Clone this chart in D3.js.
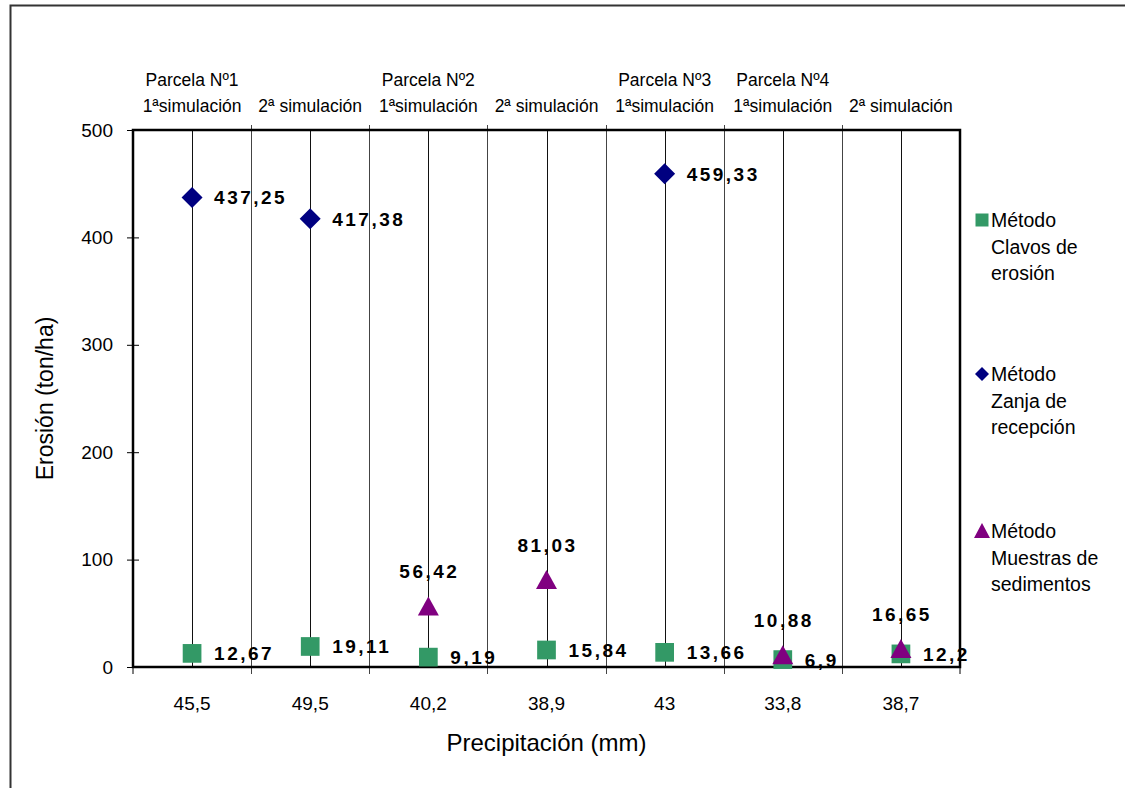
<!DOCTYPE html>
<html>
<head>
<meta charset="utf-8">
<script src="https://cdn.jsdelivr.net/npm/d3@7"></script>
<style>
body{margin:0;background:#fff;}
svg text{font-family:"Liberation Sans",Arial,sans-serif;fill:#000;}
.val{font-weight:bold;font-size:19px;letter-spacing:2.5px;}
</style>
</head>
<body>
<svg id="chart"></svg>
<script>
// categories (precipitation) and top labels
var precip = ["45,5","49,5","40,2","38,9","43","33,8","38,7"]
var parcela = ["Parcela Nº1","","Parcela Nº2","","Parcela Nº3","Parcela Nº4",""]
var simul = ["1ªsimulación","2ª simulación","1ªsimulación","2ª simulación","1ªsimulación","1ªsimulación","2ª simulación"]
// series values (ton/ha), null = no value
var clavos = [12.67,19.11,9.19,15.84,13.66,6.9,12.2]
var zanja = [437.25,417.38,null,null,459.33,null,null]
var muestras = [null,null,56.42,81.03,null,10.88,16.65]
var yTicks = [0,100,200,300,400,500]

var screen = {width:1125,height:788}
var margins = {left:133,right:165,top:130,bottom:121}
var graph = {
    width:screen.width-margins.left-margins.right,
    height:screen.height-margins.top-margins.bottom
}

var svg = d3.select("#chart")
    .attr("width",screen.width)
    .attr("height",screen.height)

// outer frame (top + left only visible)
svg.append("rect")
    .attr("x",10.5).attr("y",5.5)
    .attr("width",1200).attr("height",900)
    .attr("fill","none").attr("stroke","#333").attr("stroke-width",2)

var xScale = d3.scaleBand()
    .domain(precip)
    .range([0,graph.width])
var yScale = d3.scaleLinear()
    .domain([0,500])
    .range([graph.height,0])

var fmt = function(v){ return String(v).replace(".",","); }

var target = svg.append("g")
    .attr("transform","translate("+margins.left+","+margins.top+")")

// boundary gridlines
var bounds = precip.map(function(p){return xScale(p);}).slice(1)
target.selectAll(".bline").data(bounds).enter().append("line")
    .attr("x1",function(d){return Math.round(d)+0.5;}).attr("x2",function(d){return Math.round(d)+0.5;})
    .attr("y1",-5).attr("y2",graph.height+7)
    .attr("stroke","#444").attr("stroke-width",1)
// center lines
target.selectAll(".cline").data(precip).enter().append("line")
    .attr("x1",function(d){return Math.round(xScale(d)+xScale.bandwidth()/2)+0.5;})
    .attr("x2",function(d){return Math.round(xScale(d)+xScale.bandwidth()/2)+0.5;})
    .attr("y1",0).attr("y2",graph.height)
    .attr("stroke","#111").attr("stroke-width",1)

// y axis
var yAxis = d3.axisLeft(yScale).tickValues(yTicks).tickSize(6).tickPadding(14)
var ya = target.append("g").call(yAxis)
ya.select(".domain").remove()
ya.selectAll(".tick line").attr("x2",6).attr("x1",-6).attr("stroke","#000")
ya.selectAll(".tick text").attr("font-size",19).attr("font-family","Liberation Sans, Arial, sans-serif")

// x labels
target.selectAll(".xl").data(precip).enter().append("text")
    .attr("x",function(d){return xScale(d)+xScale.bandwidth()/2;})
    .attr("y",graph.height+43)
    .attr("text-anchor","middle").attr("font-size",19)
    .text(function(d){return d;})
// bottom ticks at left/right ends
target.selectAll(".et").data([0,graph.width]).enter().append("line")
    .attr("x1",function(d){return d;}).attr("x2",function(d){return d;})
    .attr("y1",graph.height).attr("y2",graph.height+7)
    .attr("stroke","#000")

// plot frame
target.append("rect")
    .attr("x",0).attr("y",0)
    .attr("width",graph.width).attr("height",graph.height)
    .attr("fill","none").attr("stroke","#000").attr("stroke-width",2.5)

// top labels
target.selectAll(".pl").data(parcela).enter().append("text")
    .attr("x",function(d,i){return xScale(precip[i])+xScale.bandwidth()/2;})
    .attr("y",-44)
    .attr("text-anchor","middle").attr("font-size",17.5)
    .text(function(d){return d;})
target.selectAll(".sl").data(simul).enter().append("text")
    .attr("x",function(d,i){return xScale(precip[i])+xScale.bandwidth()/2;})
    .attr("y",-18)
    .attr("text-anchor","middle").attr("font-size",17.5)
    .text(function(d){return d;})

var cx = function(i){return xScale(precip[i])+xScale.bandwidth()/2;}

// clavos squares
var sq = d3.symbol().type(d3.symbolSquare).size(350)
var gC = target.append("g")
clavos.forEach(function(v,i){
    if(v==null) return;
    gC.append("path").attr("d",sq)
        .attr("transform","translate("+cx(i)+","+yScale(v)+")")
        .attr("fill","#339966")
    gC.append("text").classed("val",true)
        .attr("x",cx(i)+22).attr("y",yScale(v)+7)
        .text(fmt(v))
})

// zanja diamonds
var gZ = target.append("g")
zanja.forEach(function(v,i){
    if(v==null) return;
    gZ.append("path")
        .attr("d","M0,-10.5L10.5,0L0,10.5L-10.5,0Z")
        .attr("transform","translate("+cx(i)+","+yScale(v)+")")
        .attr("fill","#000080")
    gZ.append("text").classed("val",true)
        .attr("x",cx(i)+22).attr("y",yScale(v)+7)
        .text(fmt(v))
})

// muestras triangles
var gM = target.append("g")
muestras.forEach(function(v,i){
    if(v==null) return;
    gM.append("path")
        .attr("d","M0,-10L10.5,9L-10.5,9Z")
        .attr("transform","translate("+cx(i)+","+yScale(v)+")")
        .attr("fill","#800080")
    gM.append("text").classed("val",true)
        .attr("x",cx(i)+1).attr("y",yScale(v)-28)
        .attr("text-anchor","middle")
        .text(fmt(v))
})

// axis titles
svg.append("text")
    .attr("x",margins.left+graph.width/2).attr("y",751)
    .attr("text-anchor","middle").attr("font-size",24)
    .text("Precipitación (mm)")
svg.append("text")
    .attr("transform","translate(53,"+(margins.top+graph.height/2)+") rotate(-90)")
    .attr("text-anchor","middle").attr("font-size",23)
    .text("Erosión (ton/ha)")

// legend
var legendItems = [
    {lines:["Método","Clavos de","erosión"],y:220,type:"sq",color:"#339966"},
    {lines:["Método","Zanja de","recepción"],y:374,type:"di",color:"#000080"},
    {lines:["Método","Muestras de","sedimentos"],y:531,type:"tr",color:"#800080"}
]
var legend = svg.append("g")
legendItems.forEach(function(it){
    var g = legend.append("g").attr("transform","translate(982,"+it.y+")")
    var d = it.type=="sq" ? "M-6.5,-6.5h13v13h-13Z" :
            it.type=="di" ? "M0,-7L7,0L0,7L-7,0Z" : "M0,-8L8,7L-8,7Z"
    g.append("path").attr("d",d).attr("fill",it.color)
    g.selectAll("text").data(it.lines).enter().append("text")
        .attr("x",9).attr("y",function(d,i){return 7+i*26.5;})
        .attr("font-size",19.5)
        .text(function(d){return d;})
})
</script>
</body>
</html>
